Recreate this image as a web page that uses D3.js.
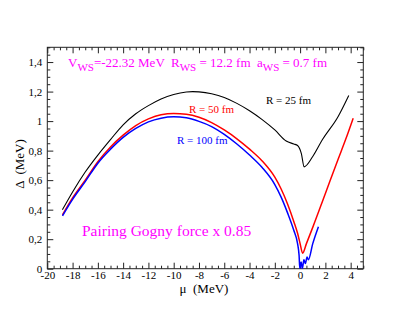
<!DOCTYPE html>
<html><head><meta charset="utf-8">
<script src="https://cdn.jsdelivr.net/npm/d3@7"></script>
<style>body{margin:0;background:#fff;}</style>
</head>
<body><svg id="c" width="409" height="316"></svg>
<script>
// Data (mu in MeV, Delta in MeV)
const muR25 = [-18.8,-18,-17,-16,-15,-14,-13,-12,-11,-10,-9,-8.5,-8,-7,-6,-5,-4,-3,-2,-1.1,-0.5,-0.2,0.1,0.32,1,1.77,3,3.85];
const dR25  = [0.40,0.52,0.655,0.77,0.875,0.975,1.05,1.105,1.15,1.18,1.197,1.20,1.198,1.185,1.16,1.12,1.07,1.01,0.94,0.865,0.845,0.835,0.78,0.69,0.76,0.875,1.03,1.174];
const muR50 = [-18.8,-18,-17,-16,-15,-14,-13,-12,-11,-10,-9,-8,-7,-6,-5,-4,-3,-2,-1.5,-1,-0.5,-0.2,0,0.2,0.5,1,2,3,3.6,4.2];
const dR50  = [0.365,0.48,0.60,0.725,0.825,0.905,0.97,1.015,1.043,1.051,1.046,1.026,0.99,0.94,0.88,0.81,0.73,0.62,0.54,0.44,0.32,0.24,0.17,0.105,0.17,0.28,0.51,0.74,0.875,1.02];
const muR100 = [-18.8,-18,-17,-16,-15,-14,-13,-12,-11,-10,-9,-8,-7,-6,-5,-4,-3,-2,-1.5,-1,-0.5,-0.2,-0.08,-0.02,0.08,0.18,0.3,0.42,0.55,0.65,1.0,1.45];
const dR100  = [0.358,0.47,0.59,0.715,0.81,0.89,0.95,0.995,1.02,1.029,1.022,0.998,0.963,0.91,0.845,0.77,0.685,0.57,0.485,0.38,0.26,0.17,0.09,0.0,0.045,0.0,0.06,0.035,0.08,0.06,0.17,0.285];
const xMajor = [-20,-18,-16,-14,-12,-10,-8,-6,-4,-2,0,2,4];
const yMajor = [0,0.2,0.4,0.6,0.8,1,1.2,1.4];
const yLabels = ["0","0,2","0,4","0,6","0,8","1","1,2","1,4"];

const FONT = "Liberation Serif";
const svg = d3.select("#c");
const L=47.3,R=363.3,T=47.3,B=268.7;
const x = d3.scaleLinear().domain([-20,5]).range([L,R]);
const y = d3.scaleLinear().domain([0,1.5]).range([B,T]);

const xMinor = d3.range(-20,5.001,0.5).filter(v=>!xMajor.includes(v));
const yMinor = d3.range(0,1.5001,0.05).map(v=>+v.toFixed(2)).filter(v=>!yMajor.some(m=>Math.abs(m-v)<1e-6));

function styleAxis(g){ g.select(".domain").remove(); g.selectAll("line").attr("stroke","#222").attr("stroke-width",1); g.selectAll("text").attr("fill","#000").style("font-family",FONT).style("font-size","11px"); }

// bottom
svg.append("g").attr("transform",`translate(0,${B})`).call(d3.axisBottom(x).tickValues(xMajor).tickSize(-6).tickPadding(3).tickFormat(d=>String(d))).call(styleAxis);
svg.append("g").attr("transform",`translate(0,${B})`).call(d3.axisBottom(x).tickValues(xMinor).tickSize(-3).tickFormat("")).call(styleAxis);
// top
svg.append("g").attr("transform",`translate(0,${T})`).call(d3.axisTop(x).tickValues(xMajor).tickSize(-6).tickFormat("")).call(styleAxis);
svg.append("g").attr("transform",`translate(0,${T})`).call(d3.axisTop(x).tickValues(xMinor).tickSize(-3).tickFormat("")).call(styleAxis);
// left
svg.append("g").attr("transform",`translate(${L},0)`).call(d3.axisLeft(y).tickValues(yMajor).tickSize(-6).tickPadding(5).tickFormat((d,i)=>yLabels[i])).call(styleAxis);
svg.append("g").attr("transform",`translate(${L},0)`).call(d3.axisLeft(y).tickValues(yMinor).tickSize(-3).tickFormat("")).call(styleAxis);
// right
svg.append("g").attr("transform",`translate(${R},0)`).call(d3.axisRight(y).tickValues(yMajor).tickSize(-6).tickFormat("")).call(styleAxis);
svg.append("g").attr("transform",`translate(${R},0)`).call(d3.axisRight(y).tickValues(yMinor).tickSize(-3).tickFormat("")).call(styleAxis);

svg.append("rect").attr("x",L).attr("y",T).attr("width",R-L).attr("height",B-T).attr("fill","none").attr("stroke","#222").attr("stroke-width",1);

svg.append("defs").append("clipPath").attr("id","clip").append("rect").attr("x",L).attr("y",T).attr("width",R-L).attr("height",B-T);

const line = d3.line().x(d=>x(d[0])).y(d=>y(d[1])).curve(d3.curveMonotoneX);
const series = [
  {mu:muR25,d:dR25,color:"#000",w:1.1},
  {mu:muR50,d:dR50,color:"#ff0000",w:1.5},
  {mu:muR100,d:dR100,color:"#0000ff",w:1.5}
];
const gl = svg.append("g").attr("clip-path","url(#clip)");
series.forEach(s=>{
  gl.append("path").datum(s.mu.map((m,i)=>[m,s.d[i]])).attr("d",line).attr("fill","none").attr("stroke",s.color).attr("stroke-width",s.w).attr("stroke-linejoin","round");
});

// labels
function txt(xp,yp,size,color,str){ return svg.append("text").attr("x",xp).attr("y",yp).style("font-family",FONT).style("font-size",size+"px").attr("fill",color).style("white-space","pre").text(str); }
txt(266,104,11,"#000","R = 25 fm");
txt(189,113,11,"#ff0000","R = 50 fm");
txt(177,144,11,"#0000ff","R = 100 fm");

const ws = svg.append("text").attr("x",68).attr("y",67).style("font-family",FONT).style("font-size","13px").attr("fill","#ff00ff").style("white-space","pre");
ws.append("tspan").text("V");
ws.append("tspan").attr("dy",4).style("font-size","11px").text("WS");
ws.append("tspan").attr("dy",-4).text("=-22.32 MeV  R");
ws.append("tspan").attr("dy",4).style("font-size","11px").text("WS");
ws.append("tspan").attr("dy",-4).text(" = 12.2 fm  a");
ws.append("tspan").attr("dy",4).style("font-size","11px").text("WS");
ws.append("tspan").attr("dy",-4).text(" = 0.7 fm");

txt(82,236,15.5,"#ff00ff","Pairing Gogny force x 0.85");

txt(204,293,13,"#000","μ  (MeV)").attr("text-anchor","middle");
svg.append("text").attr("transform","translate(24,164) rotate(-90)").attr("text-anchor","middle").style("font-family",FONT).style("font-size","13px").attr("fill","#000").style("white-space","pre").text("Δ  (MeV)");
</script></body></html>
